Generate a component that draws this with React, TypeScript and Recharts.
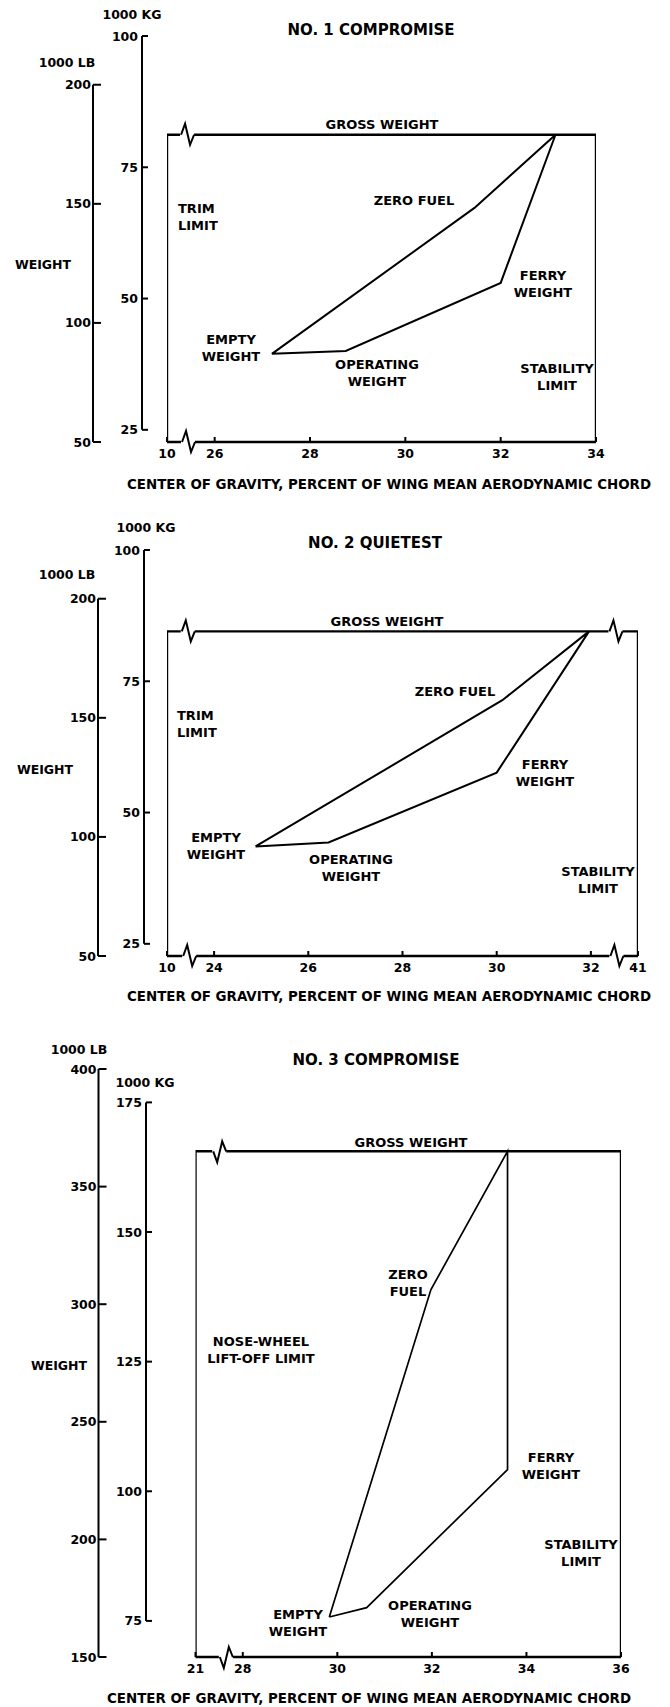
import { LineChart, Line, XAxis, YAxis, ReferenceDot } from "recharts";

const LB_PER_KG = 2.2046;
const FONT = "'DejaVu Sans', sans-serif";
const X_AXIS_H = 24;

// left axes are stacked outward from the plot in id order: spacer, kg, lb
const PAD_ID = "a-pad";
const KG_ID = "b-kg";
const LB_ID = "c-lb";

// order of the corners of each loading envelope
const loadPoints = ["EMPTY", "OPERATING", "FERRY", "GROSS", "ZERO FUEL", "EMPTY"];

// No. 1 compromise
const c1XTicks = [25, 26, 28, 30, 32, 34];
const c1XLabels = ["10", "26", "28", "30", "32", "34"];
const c1LbDomain: [number, number] = [50, 100 * LB_PER_KG];
const c1LbTicks = [50, 100, 150, 200];
const c1KgTicks = [25, 50, 75, 100];
const c1Gross = 179;
const c1Cg = [27.2, 28.75, 32.0, 33.15, 31.45, 27.2];
const c1Lb = [87, 88.2, 116.8, 179, 148.3, 87];
const c1BreaksTop = [25.4];
const c1BreaksBottom = [25.42];

// No. 2 quietest
const c2XTicks = [23, 24, 26, 28, 30, 32, 33];
const c2XLabels = ["10", "24", "26", "28", "30", "32", "41"];
const c2LbDomain: [number, number] = [50, 100 * LB_PER_KG];
const c2LbTicks = [50, 100, 150, 200];
const c2KgTicks = [25, 50, 75, 100];
const c2Gross = 186.3;
const c2Cg = [24.88, 26.43, 30.0, 31.96, 30.12, 24.88];
const c2Lb = [96, 97.7, 127, 186.3, 157.4, 96];
const c2BreaksTop = [23.42, 32.5];
const c2BreaksBottom = [23.45, 32.52];

// No. 3 compromise
const c3XTicks = [27, 28, 30, 32, 34, 36];
const c3XLabels = ["21", "28", "30", "32", "34", "36"];
const c3LbDomain: [number, number] = [150, 400];
const c3LbTicks = [150, 200, 250, 300, 350, 400];
const c3KgTicks = [75, 100, 125, 150, 175];
const c3Gross = 365;
const c3Cg = [29.83, 30.62, 33.6, 33.6, 31.98, 29.83];
const c3Lb = [167, 171, 229.7, 365, 306.2, 167];
const c3BreaksTop = [27.48];
const c3BreaksBottom = [27.62];

// dash pattern that limits an axis spine to the span between its end ticks
function spineDash(domain: number[], from: number, to: number, plotH: number) {
  const k = plotH / (domain[1] - domain[0]);
  return `0 ${(domain[1] - to) * k} ${(to - from) * k} ${plotH * 2}`;
}

const yTick = (len: number, gap: number) => (props: any) => {
  const { x, y, payload } = props;
  return (
    <g>
      <line x1={x} y1={y} x2={x + len} y2={y} stroke="#000" strokeWidth={2} />
      <text x={x - gap} y={y} textAnchor="end" dominantBaseline="central" fontFamily={FONT} fontWeight={700} fontSize={12.5} fill="#000">
        {payload.value}
      </text>
    </g>
  );
};

const xTick = (labels: string[]) => (props: any) => {
  const { x, y, index } = props;
  return (
    <g>
      <line x1={x} y1={y} x2={x} y2={y - 5} stroke="#000" strokeWidth={2} />
      <text x={x} y={y + 11} textAnchor="middle" dominantBaseline="central" fontFamily={FONT} fontWeight={700} fontSize={12.5} fill="#000">
        {labels[index]}
      </text>
    </g>
  );
};

// scale-break mark cut into the frame
const breakShape = (flip: boolean) => (props: any) => {
  const { cx, cy } = props;
  const s = flip ? -1 : 1;
  return (
    <g>
      <rect x={cx - 6} y={cy - 2.5} width={14} height={5} fill="#fff" />
      <polyline
        points={`${cx - 5},${cy} ${cx - 1},${cy - 11 * s} ${cx + 4},${cy + 10 * s} ${cx + 8},${cy}`}
        fill="none"
        stroke="#000"
        strokeWidth={2}
      />
    </g>
  );
};

type PanelProps = {
  top: number;
  height: number;
  marginTop: number;
  marginRight: number;
  padW: number;
  kgW: number;
  lbW: number;
  xTicks: number[];
  xLabels: string[];
  lbDomain: [number, number];
  lbTicks: number[];
  kgTicks: number[];
  gross: number;
  cg: number[];
  lb: number[];
  breaksTop: number[];
  breaksBottom: number[];
  flipBreaks?: boolean;
  lineWidth: number;
};

function Panel(p: PanelProps) {
  const x0 = p.xTicks[0];
  const x1 = p.xTicks[p.xTicks.length - 1];
  const [lb0, lb1] = p.lbDomain;
  const kgDomain = [lb0 / LB_PER_KG, lb1 / LB_PER_KG];
  const plotH = p.height - p.marginTop - X_AXIS_H;
  const frame = [
    { cg: x0, lb: lb0 },
    { cg: x0, lb: p.gross },
    { cg: x1, lb: p.gross },
    { cg: x1, lb: lb0 },
  ];
  const envelope = p.cg.map((c, i) => ({ point: loadPoints[i], cg: c, lb: p.lb[i] }));
  const lbTop = p.lbTicks[p.lbTicks.length - 1];
  const kgTop = p.kgTicks[p.kgTicks.length - 1];

  return (
    <div style={{ position: "absolute", left: 0, top: p.top }}>
      <LineChart width={670} height={p.height} margin={{ top: p.marginTop, right: p.marginRight, bottom: 0, left: 16 }}>
        <XAxis
          type="number"
          dataKey="cg"
          domain={[x0, x1]}
          ticks={p.xTicks}
          interval={0}
          allowDataOverflow
          height={X_AXIS_H}
          tickSize={0}
          tickMargin={0}
          tickLine={false}
          axisLine={{ stroke: "#000", strokeWidth: 2.4 }}
          tick={xTick(p.xLabels)}
        />
        <YAxis yAxisId={PAD_ID} type="number" domain={[0, 1]} width={p.padW} axisLine={false} tickLine={false} tick={false} />
        <YAxis
          yAxisId={KG_ID}
          type="number"
          domain={kgDomain}
          ticks={p.kgTicks}
          interval={0}
          allowDataOverflow
          width={p.kgW}
          tickSize={0}
          tickMargin={0}
          tickLine={false}
          axisLine={{ stroke: "#000", strokeWidth: 2, strokeDasharray: spineDash(kgDomain, p.kgTicks[0], kgTop, plotH) }}
          tick={yTick(6, 4)}
        />
        <YAxis
          yAxisId={LB_ID}
          type="number"
          domain={p.lbDomain}
          ticks={p.lbTicks}
          interval={0}
          allowDataOverflow
          width={p.lbW}
          tickSize={0}
          tickMargin={0}
          tickLine={false}
          axisLine={{ stroke: "#000", strokeWidth: 2, strokeDasharray: spineDash(p.lbDomain, p.lbTicks[0], lbTop, plotH) }}
          tick={yTick(8, 2)}
        />
        <Line yAxisId={LB_ID} data={frame} dataKey="lb" type="linear" stroke="#000" strokeWidth={2.4} dot={false} isAnimationActive={false} />
        <Line yAxisId={LB_ID} data={envelope} dataKey="lb" type="linear" stroke="#000" strokeWidth={p.lineWidth} dot={false} isAnimationActive={false} />
        {p.breaksTop.map((b) => (
          <ReferenceDot key={`t${b}`} yAxisId={LB_ID} x={b} y={p.gross} r={0} shape={breakShape(!!p.flipBreaks)} />
        ))}
        {p.breaksBottom.map((b) => (
          <ReferenceDot key={`b${b}`} yAxisId={LB_ID} x={b} y={lb0} r={0} shape={breakShape(!!p.flipBreaks)} />
        ))}
      </LineChart>
    </div>
  );
}

function Note({ x, y, size = 13, left = false, text }: { x: number; y: number; size?: number; left?: boolean; text: string }) {
  return (
    <div
      style={{
        position: "absolute",
        left: x,
        top: y,
        transform: left ? "translate(0, -50%)" : "translate(-50%, -50%)",
        fontFamily: FONT,
        fontWeight: 700,
        fontSize: size,
        lineHeight: "16.5px",
        textAlign: left ? "left" : "center",
        whiteSpace: "pre",
        color: "#000",
      }}
    >
      {text}
    </div>
  );
}

const X_TITLE = "CENTER OF GRAVITY, PERCENT OF WING MEAN AERODYNAMIC CHORD";

export default function App() {
  return (
    <div style={{ position: "absolute", left: 0, top: 0, width: 670, height: 1707, background: "#fff" }}>
      <Panel
        top={0}
        height={466}
        marginTop={36}
        marginRight={74}
        padW={25}
        kgW={49}
        lbW={77}
        xTicks={c1XTicks}
        xLabels={c1XLabels}
        lbDomain={c1LbDomain}
        lbTicks={c1LbTicks}
        kgTicks={c1KgTicks}
        gross={c1Gross}
        cg={c1Cg}
        lb={c1Lb}
        breaksTop={c1BreaksTop}
        breaksBottom={c1BreaksBottom}
        lineWidth={2}
      />
      <Note x={132} y={15} size={12.5} text="1000 KG" />
      <Note x={371} y={30} size={15} text="NO. 1 COMPROMISE" />
      <Note x={67} y={63} size={12.5} text="1000 LB" />
      <Note x={43} y={265} size={12.5} text="WEIGHT" />
      <Note x={382} y={125} text="GROSS WEIGHT" />
      <Note x={178} y={217} left text={"TRIM\nLIMIT"} />
      <Note x={414} y={201} text="ZERO FUEL" />
      <Note x={543} y={284} text={"FERRY\nWEIGHT"} />
      <Note x={231} y={348} text={"EMPTY\nWEIGHT"} />
      <Note x={377} y={373} text={"OPERATING\nWEIGHT"} />
      <Note x={557} y={377} text={"STABILITY\nLIMIT"} />
      <Note x={389} y={485} size={13.4} text={X_TITLE} />

      <Panel
        top={510}
        height={470}
        marginTop={40}
        marginRight={32}
        padW={23}
        kgW={46}
        lbW={82}
        xTicks={c2XTicks}
        xLabels={c2XLabels}
        lbDomain={c2LbDomain}
        lbTicks={c2LbTicks}
        kgTicks={c2KgTicks}
        gross={c2Gross}
        cg={c2Cg}
        lb={c2Lb}
        breaksTop={c2BreaksTop}
        breaksBottom={c2BreaksBottom}
        lineWidth={2}
      />
      <Note x={146} y={528} size={12.5} text="1000 KG" />
      <Note x={375} y={543} size={15} text="NO. 2 QUIETEST" />
      <Note x={67} y={575} size={12.5} text="1000 LB" />
      <Note x={45} y={770} size={12.5} text="WEIGHT" />
      <Note x={387} y={622} text="GROSS WEIGHT" />
      <Note x={177} y={724} left text={"TRIM\nLIMIT"} />
      <Note x={455} y={692} text="ZERO FUEL" />
      <Note x={545} y={773} text={"FERRY\nWEIGHT"} />
      <Note x={216} y={846} text={"EMPTY\nWEIGHT"} />
      <Note x={351} y={868} text={"OPERATING\nWEIGHT"} />
      <Note x={598} y={880} text={"STABILITY\nLIMIT"} />
      <Note x={389} y={997} size={13.4} text={X_TITLE} />

      <Panel
        top={1030}
        height={651}
        marginTop={39}
        marginRight={49}
        padW={49.5}
        kgW={47.5}
        lbW={82.5}
        xTicks={c3XTicks}
        xLabels={c3XLabels}
        lbDomain={c3LbDomain}
        lbTicks={c3LbTicks}
        kgTicks={c3KgTicks}
        gross={c3Gross}
        cg={c3Cg}
        lb={c3Lb}
        breaksTop={c3BreaksTop}
        breaksBottom={c3BreaksBottom}
        flipBreaks
        lineWidth={1.7}
      />
      <Note x={79} y={1050} size={12.5} text="1000 LB" />
      <Note x={376} y={1060} size={15} text="NO. 3 COMPROMISE" />
      <Note x={145} y={1083} size={12.5} text="1000 KG" />
      <Note x={59} y={1366} size={12.5} text="WEIGHT" />
      <Note x={411} y={1143} text="GROSS WEIGHT" />
      <Note x={408} y={1283} text={"ZERO\nFUEL"} />
      <Note x={261} y={1350} text={"NOSE-WHEEL\nLIFT-OFF LIMIT"} />
      <Note x={551} y={1466} text={"FERRY\nWEIGHT"} />
      <Note x={298} y={1623} text={"EMPTY\nWEIGHT"} />
      <Note x={430} y={1614} text={"OPERATING\nWEIGHT"} />
      <Note x={581} y={1553} text={"STABILITY\nLIMIT"} />
      <Note x={369} y={1699} size={13.4} text={X_TITLE} />
    </div>
  );
}
